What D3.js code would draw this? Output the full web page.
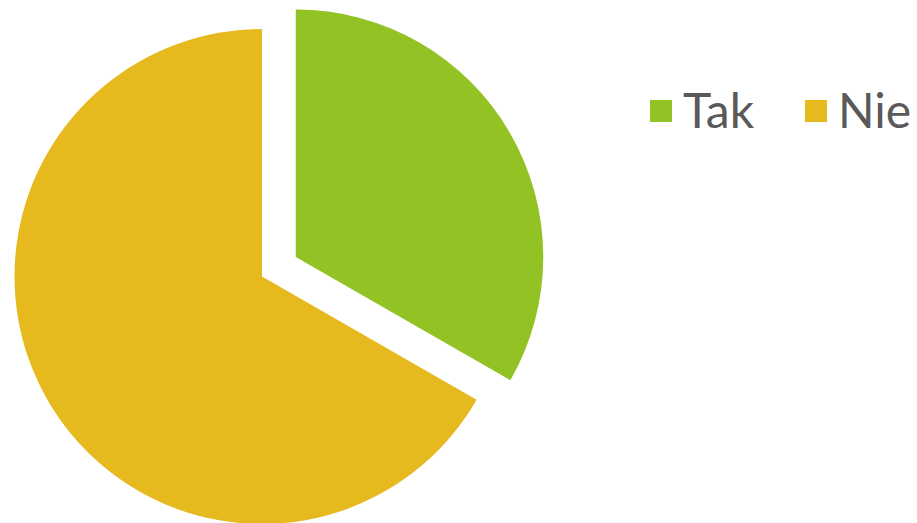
<!DOCTYPE html>
<html><head><meta charset="utf-8">
<script src="https://cdn.jsdelivr.net/npm/d3@7"></script>
<style>html,body{margin:0;padding:0;background:#fff;}</style>
</head><body>
<svg id="chart" width="917" height="523"></svg>
<script>
const categories = ["Tak", "Nie"];
const values = [33.3, 66.7];
const colors = ["#93C224", "#E6B91E"];

const svg = d3.select("#chart");
const cx = 262, cy = 276.5, r = 247.5, explode = 39;

const pie = d3.pie().sort(null).value(d => d.v);
const arcs = pie(categories.map((c, i) => ({c, v: values[i], col: colors[i]})));
const arc = d3.arc().innerRadius(0).outerRadius(r);

svg.append("g").attr("transform", `translate(${cx},${cy})`)
  .selectAll("path").data(arcs).join("path")
  .attr("d", arc)
  .attr("fill", d => d.data.col)
  .attr("transform", (d, i) => {
    if (i !== 0) return null;
    const a = (d.startAngle + d.endAngle) / 2;
    return `translate(${explode * Math.sin(a)},${-explode * Math.cos(a)})`;
  });

const legendX = [650, 805];
const lg = svg.append("g");
categories.forEach((c, i) => {
  lg.append("rect").attr("x", legendX[i]).attr("y", 100).attr("width", 22).attr("height", 22).attr("fill", colors[i]);
  lg.append("text").attr("x", legendX[i] + 33).attr("y", 128)
    .attr("font-family", "Lato, 'DejaVu Sans', sans-serif").attr("font-size", 48)
    .attr("fill", "#595959").text(c);
});
</script>
</body></html>
